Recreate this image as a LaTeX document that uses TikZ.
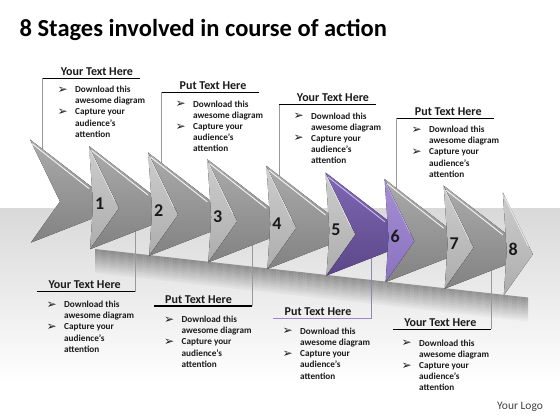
\documentclass[tikz,border=0pt]{standalone}
\usepackage{fontspec}
\setmainfont{Carlito}
\newfontfamily\dejavu{DejaVu Sans}
\usetikzlibrary{calc}
\definecolor{gT}{HTML}{ABABAB}
\definecolor{gB}{HTML}{828282}
\definecolor{gfT}{HTML}{CDCDCD}
\definecolor{gfB}{HTML}{ADADAD}
\definecolor{pT}{HTML}{8068B4}
\definecolor{pB}{HTML}{5A4788}
\definecolor{pfT}{HTML}{A58FD3}
\definecolor{pfB}{HTML}{8A72C0}
\definecolor{hlG}{HTML}{F4F4F4}
\definecolor{hlP}{HTML}{CDBDF0}
\definecolor{ulP}{HTML}{9A88C8}
\definecolor{txt}{HTML}{1A1A1A}
\newcommand\bulletmark{{\dejavu\fontsize{12}{8}\selectfont\raisebox{-0.6pt}{➢}}}
\newcommand\bulletlist{\begin{tabular}[t]{@{}p{17.5pt}@{}l@{}}\bulletmark&Download this\\&awesome diagram\\\bulletmark&Capture your\\&audience’s\\&attention\end{tabular}}
\begin{document}
\begin{tikzpicture}[x=1pt,y=-1pt,
  head/.style={anchor=base,inner sep=0pt,font=\fontsize{12}{14}\selectfont\bfseries,text=txt},
  blk/.style={anchor=base west,inner sep=0pt,font=\fontsize{9.2}{11.2}\selectfont\bfseries,text=txt},
  num/.style={inner sep=0pt,font=\fontsize{18}{20}\selectfont\bfseries,text=txt},
  uline/.style={draw=black,line width=1.2pt},
  vline/.style={draw=black!40,line width=0.6pt},
  hl/.style={line width=0.9pt,line cap=round}]
\useasboundingbox (0,0) rectangle (560,420);
\fill[white] (0,0) rectangle (560,420);
% floor
\fill[top color=black!15,bottom color=white] (0,208) rectangle (560,385);
% soft shadow under arrows (stacked strips fading downwards)
\foreach \i in {0,...,11}{
  \pgfmathsetmacro\op{0.36*(1-\i/12)}
  \fill[black,opacity=\op] (95,{249+2*\i}) -- (528,{297.5+2*\i}) -- (528,{299.5+2*\i}) -- (95,{251+2*\i}) -- cycle;
}
% arrow back corners
\foreach \k in {1,...,9}
  \coordinate (B\k) at ({30+59.1*(\k-1)},{139.5+6.6*(\k-1)});
% callout coordinates
\coordinate (u1l) at (42.7,78.3);  \coordinate (u1r) at (140,78.3);  \coordinate (a1) at (42.7,152);
\coordinate (u2l) at (161.7,92.3); \coordinate (u2r) at (259.3,92.3); \coordinate (a2) at (161.7,166);
\coordinate (u3l) at (279.3,104.3);\coordinate (u3r) at (376,104.3); \coordinate (a3) at (279.3,178);
\coordinate (u4l) at (396.7,118.3);\coordinate (u4r) at (494.3,118.3);\coordinate (a4) at (396.7,191);
\coordinate (d1l) at (36.7,291.7); \coordinate (d1r) at (135,291.7); \coordinate (c1) at (135,229);
\coordinate (d2l) at (154,306);    \coordinate (d2r) at (252.3,306); \coordinate (c2) at (252.3,242);
\coordinate (d3l) at (273.3,318.3);\coordinate (d3r) at (371.7,318.3);\coordinate (c3) at (371.7,255);
\coordinate (d4l) at (393.3,329.3);\coordinate (d4r) at (491,329.3); \coordinate (c4) at (491,268);
% connectors (drawn under the arrows)
\draw[vline] (u1l) -- (a1);
\draw[vline] (u2l) -- (a2);
\draw[vline] (u3l) -- (a3);
\draw[vline] (u4l) -- (a4);
\draw[vline] (d1r) -- (c1);
\draw[vline] (d2r) -- (c2);
\draw[vline,draw=ulP!70!gray] (d3r) -- (c3);
\draw[vline] (d4r) -- (c4);
% arrows
\foreach \j/\n/\ta/\tb/\fa/\fb/\hc in {1/2/gT/gB/gfT/gfB/hlG,2/3/gT/gB/gfT/gfB/hlG,3/4/gT/gB/gfT/gfB/hlG,4/5/gT/gB/gfT/gfB/hlG,5/6/gT/gB/gfT/gfB/hlG,6/7/pT/pB/pfT/pfB/hlP,7/8/gT/gB/gfT/gfB/hlG,8/9/gT/gB/gfT/gfB/hlG}{
  \fill[top color=\ta,bottom color=\tb] (B\j) -- ($(B\n)+(30,62)$) -- ($(B\j)+(1,103)$) -- ($(B\j)+(30,62)$) -- cycle;
  \draw[hl,draw=\hc] ($(B\j)+(2.5,4.5)$) -- ($(B\j)+(59,49)$);
  \fill[top color=\fa,bottom color=\fb] (B\n) -- ($(B\n)+(30,62)$) -- ($(B\n)+(1,103)$) -- ($(B\n)+(4,58)$) -- cycle;
  \draw[hl,draw=\hc,opacity=0.8] ($(B\n)+(2,5)$) -- ($(B\n)+(25.5,54)$);
}
% numbers
\foreach \k [evaluate=\k as \n using int(\k+1)] in {1,...,8}
  \node[num] (n\k) at ($(B\n)+(10.5,57.5)$) {\k};
% underlines
\draw[uline] (u1l) -- (u1r);
\draw[uline] (u2l) -- (u2r);
\draw[uline] (u3l) -- (u3r);
\draw[uline] (u4l) -- (u4r);
\draw[uline] (d1l) -- (d1r);
\draw[uline] (d2l) -- (d2r);
\draw[uline,draw=ulP] (d3l) -- (d3r);
\draw[uline] (d4l) -- (d4r);
% headings
\node[head] (h1) at (97,75.3) {Your Text Here};
\node[head] (h2) at (213,89.3) {Put Text Here};
\node[head] (h3) at (333,101.3) {Your Text Here};
\node[head] (h4) at (448.3,115.3) {Put Text Here};
\node[head] (h5) at (84.7,288.7) {Your Text Here};
\node[head] (h6) at (198.5,303) {Put Text Here};
\node[head] (h7) at (318,315.3) {Put Text Here};
\node[head] (h8) at (440.3,326.3) {Your Text Here};
% bullet blocks
\node[blk] (b1) at (57.5,92.5) {\bulletlist};
\node[blk] (b2) at (175.5,107) {\bulletlist};
\node[blk] (b3) at (293.5,119) {\bulletlist};
\node[blk] (b4) at (411.5,132.5) {\bulletlist};
\node[blk] (b5) at (46.5,307.5) {\bulletlist};
\node[blk] (b6) at (164,322.5) {\bulletlist};
\node[blk] (b7) at (282.5,334.3) {\bulletlist};
\node[blk] (b8) at (401.5,346) {\bulletlist};
% title and logo
\node[anchor=base west,inner sep=0pt,font=\fontsize{24.5}{28}\selectfont\bfseries] (title) at (19.5,36.5) {8 Stages involved in course of action};
\node[anchor=base west,inner sep=0pt,font=\fontsize{11.5}{13}\selectfont,text=black!75] (logo) at (497,409.5) {Your Logo};
\end{tikzpicture}
\end{document}
